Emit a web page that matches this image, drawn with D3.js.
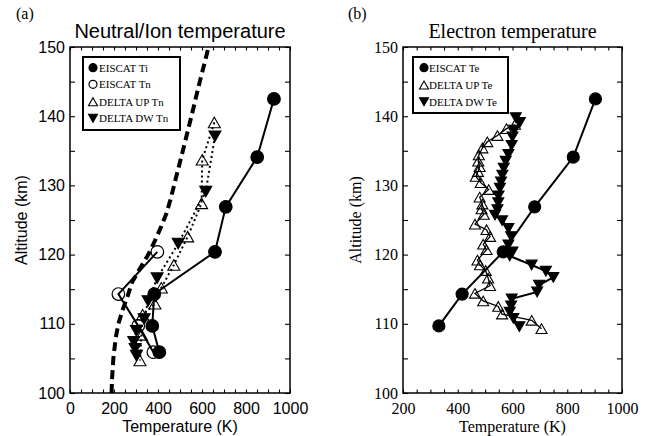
<!DOCTYPE html>
<html>
<head>
<meta charset="utf-8">
<script src="https://cdn.jsdelivr.net/npm/d3@7"></script>
<style>
  body { margin: 0; background: #fff; }
  svg { display: block; }
</style>
</head>
<body>
<svg id="chart" width="650" height="436"></svg>
<script>
// ---- panel (a): neutral / ion temperature ----
var tiAlt = [142.5, 134.1, 126.9, 120.4, 114.3, 109.7, 105.9]
var tiTemp = [927, 851, 708, 659, 383, 374, 406]
var tnAlt = [120.4, 114.3, 109.7, 105.9]
var tnTemp = [397, 220, 310, 379]
var upTnAlt = [139.1, 133.7, 127.4, 122.6, 118.5, 115.2, 112.9, 111.3, 108.4, 104.7]
var upTnTemp = [656, 601, 598, 535, 472, 415, 386, 330, 325, 318]
var dwTnAlt = [137.1, 129.1, 121.6, 116.6, 113.3, 110.7, 109.0, 107.4, 106.4, 105.4]
var dwTnTemp = [659, 617, 492, 396, 355, 337, 302, 290, 296, 302]
var modelAlt = [100, 102, 105, 108, 110, 112, 114, 116, 118, 120, 122, 124, 126, 128, 130, 135, 140, 145, 150]
var modelTemp = [189, 191, 197, 208, 220, 239, 262, 282, 318, 356, 386, 414, 439, 457, 473, 513, 552, 590, 630]

// ---- panel (b): electron temperature ----
var teAlt = [142.5, 134.1, 126.9, 120.4, 114.3, 109.7]
var teTemp = [903, 822, 681, 566, 416, 331]
var upTeAlt = [138.8, 138.2, 137.2, 136.3, 135.4, 134.4, 133.5, 132.7, 132.0, 131.3, 130.4, 129.4, 128.3, 127.3, 126.6, 125.8,
  124.4, 123.6, 122.6, 121.5, 120.7, 119.2, 118.5, 117.7, 116.6, 115.5, 114.4, 113.3, 112.5, 111.4, 110.5, 109.3]
var upTeTemp = [609, 578, 545, 508, 490, 477, 475, 480, 474, 466, 484, 513, 480, 490, 487, 495,
  463, 505, 518, 493, 505, 472, 481, 502, 511, 518, 463, 493, 548, 562, 670, 706]
var dwTeAlt = [139.8, 139.1, 138.0, 137.0, 135.8, 134.5, 133.5, 132.5, 131.5, 130.5, 129.6, 128.5, 127.5, 126.5, 125.7, 124.9,
  123.8, 122.6, 121.4, 120.4, 119.8, 118.5, 117.6, 116.7, 115.6, 114.6, 113.6, 112.6, 111.7, 110.8, 109.6]
var dwTeTemp = [612, 627, 606, 600, 597, 585, 575, 568, 563, 558, 554, 549, 548, 545, 536, 562,
  585, 595, 585, 600, 590, 670, 722, 749, 697, 690, 597, 595, 590, 603, 625]

var legendA = ['EISCAT Ti', 'EISCAT Tn', 'DELTA UP Tn', 'DELTA DW Tn']
var legendB = ['EISCAT Te', 'DELTA UP Te', 'DELTA DW Te']

var SANS = '"Liberation Sans", Arial, sans-serif'
var SERIF = '"Liberation Serif", "Times New Roman", serif'

var svg = d3.select('#chart')

function zip(alt, temp) {
  return alt.map((a, i) => ({alt: a, t: temp[i]}))
}

// triangle path, centered on its bounding box
function tri(w, h, down) {
  var s = down ? -1 : 1
  return 'M0,' + (-s * h / 2) + 'L' + (w / 2) + ',' + (s * h / 2) + 'L' + (-w / 2) + ',' + (s * h / 2) + 'Z'
}

function drawMarkers(g, data, x, y, kind, size) {
  var sel = g.append('g').selectAll('path').data(data).enter()
  if (kind == 'fcircle' || kind == 'ocircle') {
    sel.append('circle')
      .attr('cx', d => x(d.t)).attr('cy', d => y(d.alt))
      .attr('r', size)
      .attr('fill', kind == 'fcircle' ? '#000' : 'none')
      .attr('stroke', '#000').attr('stroke-width', 1.2)
  } else {
    sel.append('path')
      .attr('d', tri(size * 2, size * 1.75, kind == 'dtri'))
      .attr('transform', d => 'translate(' + x(d.t) + ',' + y(d.alt) + ')')
      .attr('fill', kind == 'dtri' ? '#000' : 'none')
      .attr('stroke', '#000').attr('stroke-width', 1.1)
  }
}

function drawLine(g, data, x, y, width, dash) {
  var line = d3.line().x(d => x(d.t)).y(d => y(d.alt))
  g.append('path')
    .datum(data)
    .attr('d', line)
    .attr('fill', 'none')
    .attr('stroke', '#000')
    .attr('stroke-width', width)
    .attr('stroke-dasharray', dash || null)
}

function drawFrame(g, x, y, xTicks, xStep, font, fs, xTitle, yTitle) {
  var x0 = x.range()[0], x1 = x.range()[1]
  var y0 = y.range()[1], y1 = y.range()[0]
  var yVals = d3.range(100, 151, 5)

  var bottom = g.append('g').attr('transform', 'translate(0,' + y1 + ')')
    .call(d3.axisBottom(x).tickValues(xTicks).tickSize(-3.5).tickSizeOuter(0).tickPadding(10)
      .tickFormat(d => d % xStep == 0 ? d : ''))
  var top = g.append('g').attr('transform', 'translate(0,' + y0 + ')')
    .call(d3.axisTop(x).tickValues(xTicks).tickSize(-3.5).tickSizeOuter(0).tickFormat(''))
  var left = g.append('g').attr('transform', 'translate(' + x0 + ',0)')
    .call(d3.axisLeft(y).tickValues(yVals).tickSize(-5).tickSizeOuter(0).tickPadding(5)
      .tickFormat(d => d % 10 == 0 ? d : ''))
  var right = g.append('g').attr('transform', 'translate(' + x1 + ',0)')
    .call(d3.axisRight(y).tickValues(yVals).tickSize(-5).tickSizeOuter(0).tickFormat(''))

  ;[bottom, top, left, right].forEach(a => {
    a.select('.domain').remove()
    a.selectAll('line').attr('stroke', '#000').attr('stroke-width', 1.1)
    a.selectAll('text').attr('fill', '#000').style('font-family', font).style('font-size', fs + 'px')
  })

  g.append('rect')
    .attr('x', x0).attr('y', y0)
    .attr('width', x1 - x0).attr('height', y1 - y0)
    .attr('fill', 'none').attr('stroke', '#000').attr('stroke-width', 1.5)

  g.append('text')
    .attr('x', (x0 + x1) / 2).attr('y', 432)
    .attr('text-anchor', 'middle')
    .style('font-family', font).style('font-size', '16px')
    .text(xTitle)

  g.append('text')
    .attr('transform', 'translate(' + yTitle.x + ',' + ((y0 + y1) / 2) + ') rotate(-90)')
    .attr('text-anchor', 'middle')
    .style('font-family', font).style('font-size', '16px')
    .text(yTitle.text)
}

function drawLegend(g, box, names, kinds, mx, tx, ys) {
  g.append('rect')
    .attr('x', box[0]).attr('y', box[1]).attr('width', box[2]).attr('height', box[3])
    .attr('fill', '#fff').attr('stroke', '#000').attr('stroke-width', 2)
  names.forEach((n, i) => {
    var lg = g.append('g')
    var k = kinds[i]
    if (k == 'fcircle' || k == 'ocircle') {
      lg.append('circle').attr('cx', mx).attr('cy', ys[i]).attr('r', 4)
        .attr('fill', k == 'fcircle' ? '#000' : 'none').attr('stroke', '#000').attr('stroke-width', 1.2)
    } else {
      lg.append('path').attr('d', tri(9, 8, k == 'dtri'))
        .attr('transform', 'translate(' + mx + ',' + ys[i] + ')')
        .attr('fill', k == 'dtri' ? '#000' : 'none').attr('stroke', '#000').attr('stroke-width', 1.1)
    }
    lg.append('text')
      .attr('x', tx).attr('y', ys[i] + 4)
      .style('font-family', SERIF).style('font-size', '11px')
      .text(n)
  })
}

// ================= panel (a) =================
var xa = d3.scaleLinear().domain([0, 1000]).range([70, 290])
var ya = d3.scaleLinear().domain([100, 150]).range([393, 47])
var ga = svg.append('g')

drawFrame(ga, xa, ya, d3.range(0, 1001, 50), 200, SANS, 16, 'Temperature (K)', {x: 27, text: 'Altitude (km)'})

drawLine(ga, zip(modelAlt, modelTemp), xa, ya, 4, '9,5')
drawLine(ga, zip(tiAlt, tiTemp), xa, ya, 2)
drawMarkers(ga, zip(tiAlt, tiTemp), xa, ya, 'fcircle', 6.3)
drawLine(ga, zip(tnAlt, tnTemp), xa, ya, 2)
drawMarkers(ga, zip(tnAlt, tnTemp), xa, ya, 'ocircle', 6.3)
drawLine(ga, zip(upTnAlt, upTnTemp), xa, ya, 2, '2,3')
drawMarkers(ga, zip(upTnAlt, upTnTemp), xa, ya, 'utri', 6)
drawLine(ga, zip(dwTnAlt, dwTnTemp), xa, ya, 2, '2,3')
drawMarkers(ga, zip(dwTnAlt, dwTnTemp), xa, ya, 'dtri', 6)

drawLegend(ga, [83, 57, 97, 73], legendA, ['fcircle', 'ocircle', 'utri', 'dtri'], 93, 99, [67.7, 84.3, 101.7, 118.3])

ga.append('text').attr('x', 180).attr('y', 38).attr('text-anchor', 'middle')
  .style('font-family', SANS).style('font-size', '20px').text('Neutral/Ion temperature')
ga.append('text').attr('x', 16).attr('y', 19)
  .style('font-family', SERIF).style('font-size', '16px').text('(a)')

// ================= panel (b) =================
var xb = d3.scaleLinear().domain([200, 1000]).range([403, 622])
var yb = d3.scaleLinear().domain([100, 150]).range([393, 47])
var gb = svg.append('g')

drawFrame(gb, xb, yb, d3.range(200, 1001, 50), 200, SERIF, 16, 'Temperature (K)', {x: 361, text: 'Altitude (km)'})

drawLine(gb, zip(teAlt, teTemp), xb, yb, 2)
drawMarkers(gb, zip(teAlt, teTemp), xb, yb, 'fcircle', 6)
drawLine(gb, zip(upTeAlt, upTeTemp), xb, yb, 1.3)
drawMarkers(gb, zip(upTeAlt, upTeTemp), xb, yb, 'utri', 5.5)
drawLine(gb, zip(dwTeAlt, dwTeTemp), xb, yb, 2)
drawMarkers(gb, zip(dwTeAlt, dwTeTemp), xb, yb, 'dtri', 5.5)

drawLegend(gb, [413, 57, 95, 56], legendB, ['fcircle', 'utri', 'dtri'], 424, 429, [67.7, 85, 101.7])

gb.append('text').attr('x', 512.5).attr('y', 38).attr('text-anchor', 'middle')
  .style('font-family', SERIF).style('font-size', '20px').text('Electron temperature')
gb.append('text').attr('x', 348).attr('y', 19)
  .style('font-family', SERIF).style('font-size', '16px').text('(b)')
</script>
</body>
</html>
